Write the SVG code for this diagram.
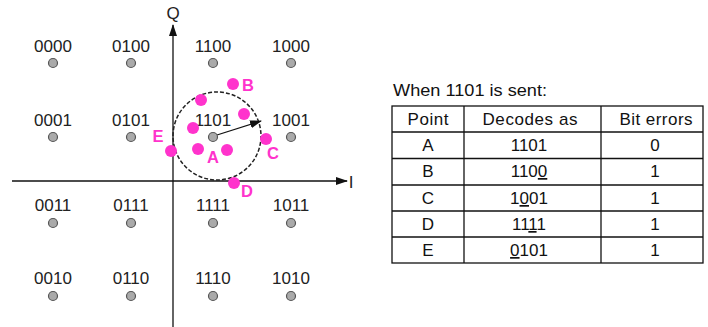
<svg xmlns="http://www.w3.org/2000/svg" width="708" height="327" viewBox="0 0 708 327">
<defs>
<style>
.lbl{font-family:"Liberation Sans",Arial,sans-serif;font-size:17px;fill:#222;text-anchor:middle}
.pt{fill:#aaa;stroke:#555;stroke-width:1.2}
.mg{fill:#ff33cc}
.ml{font-family:"Liberation Sans",Arial,sans-serif;font-size:16.5px;font-weight:bold;fill:#ff33cc;text-anchor:middle}
.tt{font-family:"Liberation Sans",Arial,sans-serif;font-size:17px;fill:#111;text-anchor:middle}
.ax{stroke:#111;stroke-width:1.3;fill:none}
.tl{stroke:#111;stroke-width:1.3}
</style>
<marker id="ah" markerWidth="12" markerHeight="8" refX="11" refY="4" orient="auto" markerUnits="userSpaceOnUse">
<path d="M0,0 L12,4 L0,8 Z" fill="#111"/>
</marker>
</defs>
<rect width="708" height="327" fill="#fff"/>
<g id="connectors">
<line class="ax" x1="173" y1="327" x2="173" y2="25" marker-end="url(#ah)"/>
<line class="ax" x1="12" y1="181" x2="347" y2="181" marker-end="url(#ah)"/>
<circle cx="217" cy="136" r="44" fill="none" stroke="#222" stroke-width="1.5" stroke-dasharray="4 2"/>
<line class="ax" x1="217" y1="135" x2="261" y2="121" marker-end="url(#ah)"/>
</g>
<g id="axis-labels">
<text class="lbl" x="173" y="19" font-size="16">Q</text>
<text class="lbl" x="351" y="188">I</text>
</g>
<g id="constellation">
<g id="p0000"><text class="lbl" x="53" y="52">0000</text><circle class="pt" cx="53" cy="63" r="4.5"/></g>
<g id="p0100"><text class="lbl" x="131" y="52">0100</text><circle class="pt" cx="131" cy="63" r="4.5"/></g>
<g id="p1100"><text class="lbl" x="213" y="52">1100</text><circle class="pt" cx="213" cy="63" r="4.5"/></g>
<g id="p1000"><text class="lbl" x="291" y="52">1000</text><circle class="pt" cx="291" cy="63" r="4.5"/></g>
<g id="p0001"><text class="lbl" x="53" y="126">0001</text><circle class="pt" cx="53" cy="137" r="4.5"/></g>
<g id="p0101"><text class="lbl" x="131" y="126">0101</text><circle class="pt" cx="131" cy="137" r="4.5"/></g>
<g id="p1101"><text class="lbl" x="213" y="126">1101</text><circle class="pt" cx="213" cy="137" r="4.5"/></g>
<g id="p1001"><text class="lbl" x="291" y="126">1001</text><circle class="pt" cx="291" cy="137" r="4.5"/></g>
<g id="p0011"><text class="lbl" x="53" y="211">0011</text><circle class="pt" cx="53" cy="223" r="4.5"/></g>
<g id="p0111"><text class="lbl" x="131" y="211">0111</text><circle class="pt" cx="131" cy="223" r="4.5"/></g>
<g id="p1111"><text class="lbl" x="213" y="211">1111</text><circle class="pt" cx="213" cy="223" r="4.5"/></g>
<g id="p1011"><text class="lbl" x="291" y="211">1011</text><circle class="pt" cx="291" cy="223" r="4.5"/></g>
<g id="p0010"><text class="lbl" x="53" y="284">0010</text><circle class="pt" cx="53" cy="296" r="4.5"/></g>
<g id="p0110"><text class="lbl" x="131" y="284">0110</text><circle class="pt" cx="131" cy="296" r="4.5"/></g>
<g id="p1110"><text class="lbl" x="213" y="284">1110</text><circle class="pt" cx="213" cy="296" r="4.5"/></g>
<g id="p1010"><text class="lbl" x="291" y="284">1010</text><circle class="pt" cx="291" cy="296" r="4.5"/></g>
</g>
<g id="received">
<circle class="mg" cx="201" cy="100" r="6"/>
<circle class="mg" cx="244" cy="114" r="6"/>
<circle class="mg" cx="193" cy="128" r="6"/>
<g id="ptA"><circle class="mg" cx="198" cy="149" r="6"/><circle class="mg" cx="227" cy="150" r="6"/><text class="ml" x="213" y="163">A</text></g>
<g id="ptB"><circle class="mg" cx="233" cy="84" r="6"/><text class="ml" x="248" y="91">B</text></g>
<g id="ptC"><circle class="mg" cx="266" cy="139" r="6"/><text class="ml" x="273" y="159">C</text></g>
<g id="ptD"><circle class="mg" cx="234" cy="183" r="6"/><text class="ml" x="247" y="197">D</text></g>
<g id="ptE"><circle class="mg" cx="171" cy="151" r="6"/><text class="ml" x="158" y="142">E</text></g>
</g>
<g id="table">
<text x="393" y="96" font-family="Liberation Sans, Arial, sans-serif" font-size="16" fill="#111" textLength="154" lengthAdjust="spacingAndGlyphs">When 1101 is sent:</text>
<rect x="392" y="106" width="311" height="157" fill="none" stroke="#111" stroke-width="1.3"/>
<line class="tl" x1="464" y1="106" x2="464" y2="263"/>
<line class="tl" x1="601" y1="106" x2="601" y2="263"/>
<line class="tl" x1="392" y1="132" x2="703" y2="132"/>
<line class="tl" x1="392" y1="158.5" x2="703" y2="158.5"/>
<line class="tl" x1="392" y1="185" x2="703" y2="185"/>
<line class="tl" x1="392" y1="211" x2="703" y2="211"/>
<line class="tl" x1="392" y1="237" x2="703" y2="237"/>
<text class="tt" x="428" y="125" textLength="41">Point</text>
<text class="tt" x="530" y="125" textLength="95">Decodes as</text>
<text class="tt" x="656" y="125" textLength="73">Bit errors</text>
<text class="tt" x="428" y="151">A</text>
<text class="tt" x="428" y="177">B</text>
<text class="tt" x="428" y="204">C</text>
<text class="tt" x="428" y="230">D</text>
<text class="tt" x="428" y="256">E</text>
<text class="tt" x="529" y="151">1101</text>
<text class="tt" x="529" y="177">110<tspan text-decoration="underline">0</tspan></text>
<text class="tt" x="529" y="204">1<tspan text-decoration="underline">0</tspan>01</text>
<text class="tt" x="529" y="230">11<tspan text-decoration="underline">1</tspan>1</text>
<text class="tt" x="529" y="256"><tspan text-decoration="underline">0</tspan>101</text>
<text class="tt" x="655" y="151">0</text>
<text class="tt" x="655" y="177">1</text>
<text class="tt" x="655" y="204">1</text>
<text class="tt" x="655" y="230">1</text>
<text class="tt" x="655" y="256">1</text>
</g>
</svg>
